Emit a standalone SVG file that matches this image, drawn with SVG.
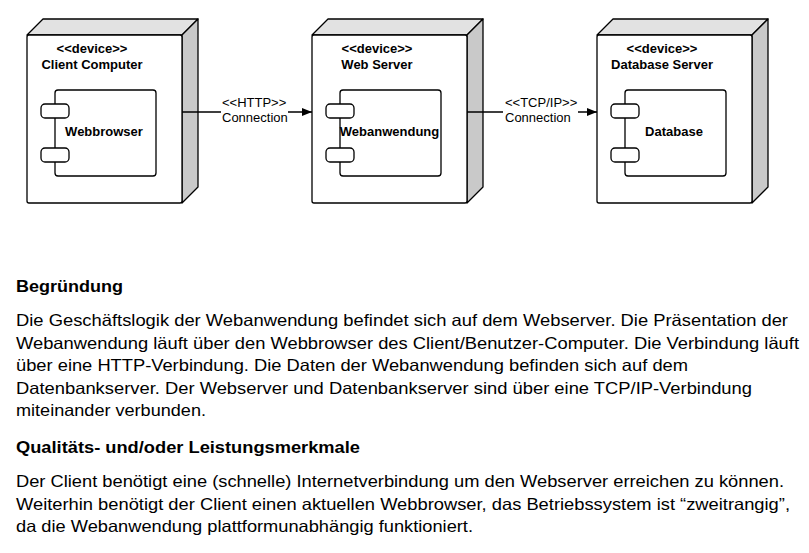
<svg xmlns="http://www.w3.org/2000/svg" width="809" height="553" viewBox="0 0 809 553">
<style>
.face{fill:#fff;stroke:#000;stroke-width:1.3}
.top{fill:#e2e2e2;stroke:#000;stroke-width:1.3;stroke-linejoin:round}
.side{fill:#c9c9c9;stroke:#000;stroke-width:1.3;stroke-linejoin:round}
.comp{fill:#fff;stroke:#000;stroke-width:1.3}
.lbl{font-family:"Liberation Sans",Arial,sans-serif;font-size:13px;font-weight:bold;text-anchor:middle;fill:#000}
.con{font-family:"Liberation Sans",Arial,sans-serif;font-size:13px;fill:#000}
.line{fill:none;stroke:#000;stroke-width:1.3}
.h{font-family:"Liberation Sans",Arial,sans-serif;font-size:16.5px;font-weight:bold;fill:#000}
.b{font-family:"Liberation Sans",Arial,sans-serif;font-size:16.5px;fill:#000}
</style>
<defs>
<marker id="arr" viewBox="0 0 10 8" refX="10" refY="4" markerWidth="10" markerHeight="8" markerUnits="userSpaceOnUse" orient="auto">
<path d="M0,0 L10,4 L0,8 Z" fill="#000"/>
</marker>
</defs>
<rect width="809" height="553" fill="#fff"/>

<g id="client-computer">
<polygon class="top" points="27,35 43,19 198,19 182,35"/>
<polygon class="side" points="182,35 198,19 198,187 182,203"/>
<rect class="face" x="27" y="35" width="155" height="168" rx="2"/>
<text class="lbl" x="92" y="53">&lt;&lt;device&gt;&gt;</text>
<text class="lbl" x="92" y="69">Client Computer</text>
<g id="webbrowser">
<rect class="comp" x="55" y="90" width="101" height="86" rx="3"/>
<rect class="comp" x="41" y="104" width="28" height="14" rx="4"/>
<rect class="comp" x="41" y="148" width="28" height="14" rx="4"/>
<text class="lbl" x="104" y="136">Webbrowser</text>
</g>
</g>

<g id="web-server">
<polygon class="top" points="312,35 328,19 483,19 467,35"/>
<polygon class="side" points="467,35 483,19 483,187 467,203"/>
<rect class="face" x="312" y="35" width="155" height="168" rx="2"/>
<text class="lbl" x="377" y="53">&lt;&lt;device&gt;&gt;</text>
<text class="lbl" x="377" y="69">Web Server</text>
<g id="webanwendung">
<rect class="comp" x="340" y="90" width="101" height="86" rx="3"/>
<rect class="comp" x="326" y="104" width="28" height="14" rx="4"/>
<rect class="comp" x="326" y="148" width="28" height="14" rx="4"/>
<text class="lbl" x="389.5" y="136">Webanwendung</text>
</g>
</g>

<g id="database-server">
<polygon class="top" points="597,35 613,19 768,19 752,35"/>
<polygon class="side" points="752,35 768,19 768,187 752,203"/>
<rect class="face" x="597" y="35" width="155" height="168" rx="2"/>
<text class="lbl" x="662" y="53">&lt;&lt;device&gt;&gt;</text>
<text class="lbl" x="662" y="69">Database Server</text>
<g id="database">
<rect class="comp" x="625" y="90" width="101" height="86" rx="3"/>
<rect class="comp" x="611" y="104" width="28" height="14" rx="4"/>
<rect class="comp" x="611" y="148" width="28" height="14" rx="4"/>
<text class="lbl" x="674" y="136">Database</text>
</g>
</g>

<g id="connectors">
<path class="line" d="M182,112 H221 M288,112 H312" marker-end="url(#arr)"/>
<text class="con" x="222" y="107">&lt;&lt;HTTP&gt;&gt;</text>
<text class="con" x="222" y="122">Connection</text>
<path class="line" d="M467,112 H503 M578,112 H597" marker-end="url(#arr)"/>
<text class="con" x="505" y="107">&lt;&lt;TCP/IP&gt;&gt;</text>
<text class="con" x="505" y="122">Connection</text>
</g>

<g id="text">
<text class="h" x="16" y="292" textLength="107" lengthAdjust="spacingAndGlyphs">Begründung</text>
<text class="b" x="16" y="326" textLength="772" lengthAdjust="spacingAndGlyphs">Die Geschäftslogik der Webanwendung befindet sich auf dem Webserver. Die Präsentation der</text>
<text class="b" x="16" y="348.5" textLength="783" lengthAdjust="spacingAndGlyphs">Webanwendung läuft über den Webbrowser des Client/Benutzer-Computer. Die Verbindung läuft</text>
<text class="b" x="16" y="371" textLength="672" lengthAdjust="spacingAndGlyphs">über eine HTTP-Verbindung. Die Daten der Webanwendung befinden sich auf dem</text>
<text class="b" x="16" y="393.5" textLength="736" lengthAdjust="spacingAndGlyphs">Datenbankserver. Der Webserver und Datenbankserver sind über eine TCP/IP-Verbindung</text>
<text class="b" x="16" y="416" textLength="190" lengthAdjust="spacingAndGlyphs">miteinander verbunden.</text>
<text class="h" x="16" y="453" textLength="344" lengthAdjust="spacingAndGlyphs">Qualitäts- und/oder Leistungsmerkmale</text>
<text class="b" x="16" y="487" textLength="768" lengthAdjust="spacingAndGlyphs">Der Client benötigt eine (schnelle) Internetverbindung um den Webserver erreichen zu können.</text>
<text class="b" x="16" y="509.5" textLength="774" lengthAdjust="spacingAndGlyphs">Weiterhin benötigt der Client einen aktuellen Webbrowser, das Betriebssystem ist “zweitrangig”,</text>
<text class="b" x="16" y="532" textLength="457" lengthAdjust="spacingAndGlyphs">da die Webanwendung plattformunabhängig funktioniert.</text>
</g>
</svg>
